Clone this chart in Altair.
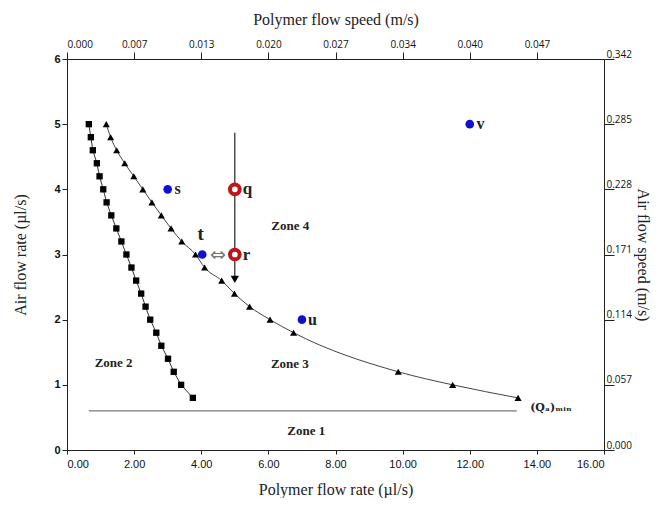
import json
import altair as alt
import pandas as pd

# ---- data ----
sq_x = [0.65, 0.71, 0.77, 0.89, 0.97, 1.08, 1.18, 1.32, 1.47, 1.62, 1.77,
        1.92, 2.06, 2.21, 2.34, 2.48, 2.66, 2.81, 3.01, 3.18, 3.40, 3.75]
sq_y = [5.0, 4.8, 4.6, 4.4, 4.2, 4.0, 3.8, 3.6, 3.4, 3.2, 3.0,
        2.8, 2.6, 2.4, 2.2, 2.0, 1.8, 1.6, 1.4, 1.2, 1.0, 0.8]

tri_x = [1.17, 1.30, 1.48, 1.72, 1.99, 2.26, 2.53, 2.81, 3.10, 3.42, 3.83,
         4.10, 4.61, 4.99, 5.44, 6.05, 6.75, 9.87, 11.49, 13.44]
tri_y = [5.0, 4.8, 4.6, 4.4, 4.2, 4.0, 3.8, 3.6, 3.4, 3.2, 3.0,
         2.8, 2.6, 2.4, 2.2, 2.0, 1.8, 1.2, 1.0, 0.8]

blue_names = ["s", "t", "u", "v"]
blue_x = [3.0, 4.03, 7.0, 12.0]
blue_y = [4.0, 3.0, 2.0, 5.0]

red_names = ["q", "r"]
red_x = [5.0, 5.0]
red_y = [4.0, 3.0]

zone_names = ["Zone 1", "Zone 2", "Zone 3", "Zone 4"]
zone_x = [7.13, 1.39, 6.64, 6.65]
zone_y = [0.29, 1.33, 1.32, 3.43]

qmin_y = 0.6
qmin_x_start = 0.65
qmin_x_end = 13.4

arrow_x = 5.0
arrow_y_top = 4.87
arrow_y_tip = 2.62

bottom_ticks = [0, 2, 4, 6, 8, 10, 12, 14, 16]
top_ticks = [0, 2, 4, 6, 8, 10, 12, 14]
top_labels = ["0.000", "0.007", "0.013", "0.020", "0.027", "0.034", "0.040", "0.047"]
left_ticks = [0, 1, 2, 3, 4, 5, 6]
right_labels = ["0.000", "0.057", "0.114", "0.171", "0.228", "0.285", "0.342"]

# ---- tables ----
sq_df = pd.DataFrame({"x": sq_x, "y": sq_y})
tri_df = pd.DataFrame({"x": tri_x, "y": tri_y})
blue_df = pd.DataFrame({"name": blue_names, "x": blue_x, "y": blue_y})
red_df = pd.DataFrame({"name": red_names, "x": red_x, "y": red_y})
zone_df = pd.DataFrame({"name": zone_names, "x": zone_x, "y": zone_y})
qmin_df = pd.DataFrame({"x": [qmin_x_start], "x2": [qmin_x_end], "y": [qmin_y]})
arrow_df = pd.DataFrame({"x": [arrow_x], "y": [arrow_y_top], "y2": [arrow_y_tip]})
tip_df = pd.DataFrame({"x": [arrow_x], "y": [arrow_y_tip]})

xs = alt.Scale(domain=[0, 16], nice=False, zero=False)
ys = alt.Scale(domain=[0, 6], nice=False, zero=False)

SERIF = "Liberation Serif"
SANS = "Liberation Sans"

x_bottom = alt.X("x:Q", scale=xs, axis=alt.Axis(
    orient="bottom", values=bottom_ticks, format=".2f", title="Polymer flow rate (µl/s)",
    titleFont=SERIF, titleFontSize=16, titleFontWeight="normal", titleColor="#222",
    labelFont=SANS, labelFontSize=11, labelColor="#111", labelPadding=4,
    tickSize=4, tickColor="#222", domainColor="#222", titlePadding=12, grid=False))
y_left = alt.Y("y:Q", scale=ys, axis=alt.Axis(
    orient="left", values=left_ticks, format="d", title="Air flow rate (µl/s)",
    titleFont=SERIF, titleFontSize=16, titleFontWeight="normal", titleColor="#222",
    labelFont=SANS, labelFontSize=11, labelColor="#111", labelFontWeight="bold",
    tickSize=5, tickColor="#222", domainColor="#222", titlePadding=25, grid=False))

top_expr = json.dumps(top_labels) + "[round(datum.value / 2)]"
right_expr = json.dumps(right_labels) + "[round(datum.value)]"

x_top = alt.X("x:Q", scale=xs, axis=alt.Axis(
    orient="top", values=top_ticks, labelExpr=top_expr, title="Polymer flow speed (m/s)",
    titleFont=SERIF, titleFontSize=16, titleFontWeight="normal", titleColor="#222",
    labelFont="Open Sans", labelFontSize=10, labelColor="#111", labelPadding=3,
    tickSize=7, tickColor="#222", domainColor="#222", titlePadding=12,
    grid=False))
y_right = alt.Y("y:Q", scale=ys, axis=alt.Axis(
    orient="right", values=left_ticks, labelExpr=right_expr, title="Air flow speed (m/s)",
    titleFont=SERIF, titleFontSize=16, titleFontWeight="normal", titleColor="#222",
    labelFont="Open Sans", labelFontSize=10, labelColor="#111", labelPadding=-8,
    labelBaseline="bottom", labelAlign="left",
    tickSize=10, tickColor="#222", domainColor="#222", titlePadding=3, grid=False))

xn = alt.X("x:Q", scale=xs, axis=None)
yn = alt.Y("y:Q", scale=ys, axis=None)

sq_line = alt.Chart(sq_df).mark_line(color="#333", strokeWidth=1).encode(x=x_bottom, y=y_left)
sq_pts = alt.Chart(sq_df).mark_point(shape="square", filled=True, color="black",
                                     size=40, opacity=1).encode(x=xn, y=yn)

tri_line = alt.Chart(tri_df).mark_line(color="#444", strokeWidth=1,
                                       interpolate="monotone").encode(x=x_top, y=y_right)
tri_pts = alt.Chart(tri_df).mark_point(shape="triangle-up", filled=True, color="black",
                                       size=50, opacity=1).encode(x=xn, y=yn)

qmin = alt.Chart(qmin_df).mark_rule(color="#555", strokeWidth=1).encode(
    x=xn, x2="x2:Q", y=yn)
qmin_lbl = alt.Chart(pd.DataFrame({"x": [13.8], "y": [0.64], "t": ["(Qₐ)ₘᵢₙ"]})).mark_text(
    font="DejaVu Serif", fontSize=11, fontWeight="bold", align="left", color="#222").encode(
    x=xn, y=yn, text="t:N")

arrow = alt.Chart(arrow_df).mark_rule(color="#222", strokeWidth=1.2).encode(
    x=xn, y=yn, y2="y2:Q")
tip = alt.Chart(tip_df).mark_point(shape="triangle-down", filled=True, color="black",
                                   size=70, opacity=1).encode(x=xn, y=yn)

blue = alt.Chart(blue_df).mark_point(shape="circle", filled=True, color="#1010d0",
                                     size=75, opacity=1).encode(x=xn, y=yn)
blue_lbl_df = pd.DataFrame({"name": ["s", "u", "v"], "x": [3.2, 7.18, 12.2], "y": [4.0, 2.0, 5.0]})
blue_lbl = alt.Chart(blue_lbl_df).mark_text(font=SERIF, fontSize=16, fontWeight="bold",
                                            align="left", color="#222").encode(
    x=xn, y=yn, text="name:N")
t_lbl = alt.Chart(pd.DataFrame({"name": ["t"], "x": [3.98], "y": [3.32]})).mark_text(
    font=SERIF, fontSize=19, fontWeight="bold", color="#222").encode(x=xn, y=yn, text="name:N")

red = alt.Chart(red_df).mark_point(shape="circle", filled=False, color="#c0141a",
                                   strokeWidth=4, size=95, opacity=1,
                                   fill="white", fillOpacity=1).encode(x=xn, y=yn)
red_lbl_df = pd.DataFrame({"name": red_names, "x": [5.24, 5.24], "y": [4.0, 3.0]})
red_lbl = alt.Chart(red_lbl_df).mark_text(font=SERIF, fontSize=17, fontWeight="bold",
                                          align="left", color="#222").encode(
    x=xn, y=yn, text="name:N")

dbl = alt.Chart(pd.DataFrame({"x": [4.5], "y": [3.0], "t": ["⇔"]})).mark_text(
    font="DejaVu Sans", fontSize=19, color="#777").encode(x=xn, y=yn, text="t:N")

zones = alt.Chart(zone_df).mark_text(font=SERIF, fontSize=13, fontWeight="bold",
                                     color="#222").encode(x=xn, y=yn, text="name:N")

chart = alt.layer(
    sq_line, tri_line, sq_pts, tri_pts, qmin, qmin_lbl, arrow, tip, blue, blue_lbl,
    t_lbl, dbl, red, red_lbl, zones
).resolve_axis(x="independent", y="independent").properties(
    width=537, height=391,
    autosize=alt.AutoSizeParams(type="none"),
    padding={"left": 59, "top": 51, "right": 51, "bottom": 48},
).configure_view(stroke=None).configure(background="white")

chart.save("out.html", embed_options={"renderer": "svg", "actions": False})
